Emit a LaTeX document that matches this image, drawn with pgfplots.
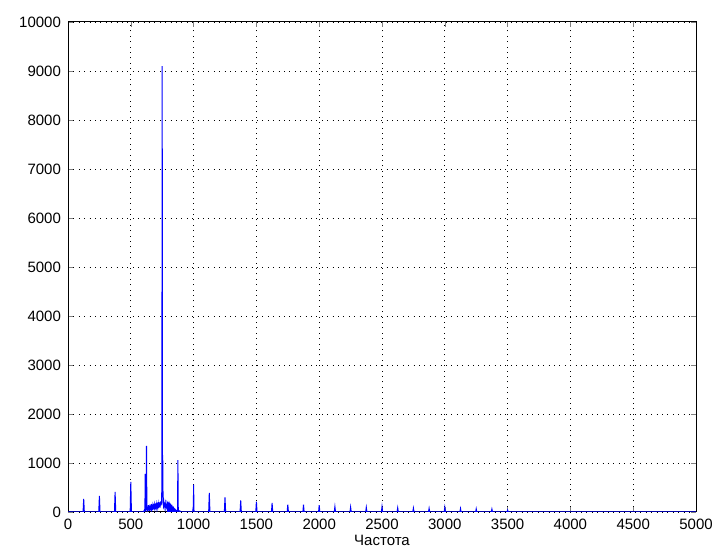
\documentclass[border=0pt]{standalone}
\usepackage{fontspec}
\setmainfont{Liberation Sans}
\usepackage{pgfplots}
\pgfplotsset{compat=1.18}
\usetikzlibrary{calc}

\begin{document}
\begin{tikzpicture}
\begin{axis}[
  scale only axis,
  width=314pt, height=245pt,
  xmin=0, xmax=5000, ymin=0, ymax=10000,
  xtick={0,500,...,5000}, ytick={0,1000,...,10000},
  scaled ticks=false,
  /pgf/number format/1000 sep={},
  /pgf/number format/assume math mode=true,
  tick label style={font=\fontsize{7.5}{9}\selectfont},
  label style={font=\fontsize{7.5}{9}\selectfont},
  tick align=inside, major tick length=2.5pt,
  xtick pos=both, ytick pos=both,
  grid=major,
  major grid style={black, line width=0.35pt, dash pattern=on 0.5pt off 2.2pt},
  axis line style={black, line width=0.5pt},
  xlabel={Частота},
  xlabel style={yshift=4pt},
]
\addplot[blue, line width=0.5pt, sharp plot] coordinates {
(0,0) (120,0) (125,265) (130,0) (245,0) (250,327) (255,0)
(370,0) (375,408) (380,0) (495,0) (500,612) (505,0)
(600,0) (608,40) (612,10) (615,780) (618,40) (622,60) (625,1350) (628,80)
(631,20) (634,110) (637,30) (640,140) (643,40) (646,120) (649,20)
(652,150) (655,50) (658,130) (661,30) (664,160) (667,60) (670,120)
(673,40) (676,150) (679,70) (682,170) (685,50) (688,140) (691,80)
(694,160) (697,60) (700,180) (703,90) (706,150) (709,70) (712,190)
(715,100) (718,160) (721,80) (724,200) (727,110) (730,180) (733,90)
(736,210) (739,130) (742,220) (745,150) (747,500)
(750,9100) (752,300) (754,1160) (757,220) (760,140) (763,200)
(766,120) (769,190) (772,100) (775,170) (778,90) (781,160) (784,70)
(787,150) (790,80) (793,140) (796,60) (799,130) (802,50) (805,120)
(808,40) (811,110) (814,30) (817,100) (820,40) (823,90) (826,20)
(829,80) (832,30) (835,70) (838,20) (841,60) (844,10) (848,50)
(852,10) (856,40) (860,5) (866,30) (872,10) (875,1060) (878,20)
(885,15) (890,25) (895,5) (905,0)
(992,0) (995,60) (998,20) (1000,558) (1003,40) (1006,0)
(1120,0) (1125,388) (1130,0)
(1245,0) (1250,300) (1255,0) (1370,0) (1375,238) (1380,0)
(1495,0) (1500,211) (1505,0) (1620,0) (1625,184) (1630,0)
(1745,0) (1750,150) (1755,0) (1870,0) (1875,150) (1880,0)
(1995,0) (2000,140) (2005,0) (2120,0) (2125,110) (2130,0)
(2245,0) (2250,100) (2255,0) (2370,0) (2375,95) (2380,0)
(2495,0) (2500,110) (2505,0) (2620,0) (2625,85) (2630,0)
(2745,0) (2750,80) (2755,0) (2870,0) (2875,75) (2880,0)
(2995,0) (3000,95) (3005,0) (3120,0) (3125,70) (3130,0)
(3245,0) (3250,65) (3255,0) (3370,0) (3375,60) (3380,0)
(3495,0) (3500,40) (3505,0) (5000,0)
};
\end{axis}
\pgfresetboundingbox
\path[use as bounding box] ($(current axis.south west)+(-34pt,-24pt)$) rectangle ($(current axis.north east)+(9.5pt,11pt)$);
\end{tikzpicture}
\end{document}
